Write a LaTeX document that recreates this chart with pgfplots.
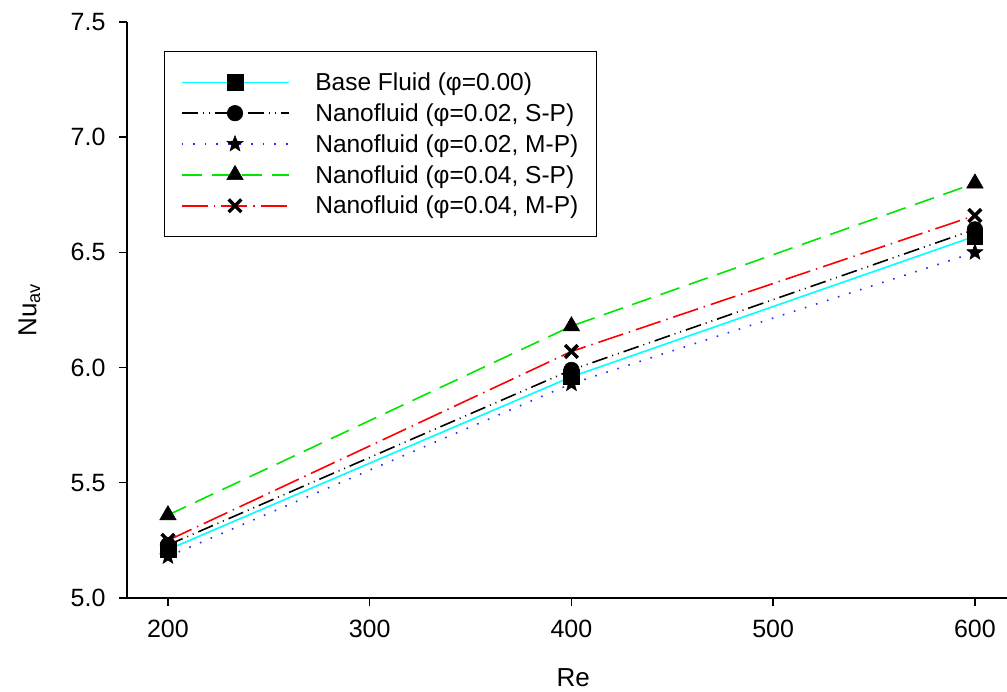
\documentclass[border=0pt]{standalone}
\usepackage{pgfplots}
\pgfplotsset{compat=1.18}
\usepackage{fontspec}
\setmainfont{Liberation Sans}
\definecolor{cyanl}{RGB}{0,255,255}
\definecolor{greenl}{RGB}{0,230,0}
\definecolor{redl}{RGB}{255,0,0}
\definecolor{bluel}{RGB}{40,40,255}
\pgfdeclareplotmark{fstar}{%
  \pgfpathmoveto{\pgfpointpolar{90}{\pgfplotmarksize}}%
  \pgfpathlineto{\pgfpointpolar{126}{0.42\pgfplotmarksize}}%
  \pgfpathlineto{\pgfpointpolar{162}{\pgfplotmarksize}}%
  \pgfpathlineto{\pgfpointpolar{198}{0.42\pgfplotmarksize}}%
  \pgfpathlineto{\pgfpointpolar{234}{\pgfplotmarksize}}%
  \pgfpathlineto{\pgfpointpolar{270}{0.42\pgfplotmarksize}}%
  \pgfpathlineto{\pgfpointpolar{306}{\pgfplotmarksize}}%
  \pgfpathlineto{\pgfpointpolar{342}{0.42\pgfplotmarksize}}%
  \pgfpathlineto{\pgfpointpolar{18}{\pgfplotmarksize}}%
  \pgfpathlineto{\pgfpointpolar{54}{0.42\pgfplotmarksize}}%
  \pgfpathclose
  \pgfusepathqfillstroke}
\begin{document}
\begin{tikzpicture}
\begin{axis}[
  scale only axis,
  width=880pt, height=576pt,
  at={(0,0)}, anchor=south west,
  xmin=179.7, xmax=615.9,
  ymin=5, ymax=7.5,
  axis x line*=bottom, axis y line*=left,
  axis line style={line width=1.6pt, -},
  tick align=outside,
  major tick length=8pt,
  tick style={line width=1.4pt, black},
  xtick={200,300,400,500,600},
  ytick={5,5.5,6,6.5,7,7.5},
  yticklabel style={xshift=-10pt, /pgf/number format/fixed, /pgf/number format/fixed zerofill, /pgf/number format/precision=1},
  /pgf/number format/assume math mode=true,
  ticklabel style={font=\fontsize{25}{29}\selectfont},
  xticklabel style={yshift=-11pt},
  xlabel={Re}, ylabel={Nu\textsubscript{av}},
  label style={font=\fontsize{26}{30}\selectfont},
  xlabel style={at={(axis description cs:0.507,-0.139)}, anchor=center},
  ylabel style={at={(axis description cs:-0.111,0.5)}, anchor=center},
  legend cell align=left,
  legend style={at={(axis description cs:0.042,0.9497)}, anchor=north west,
    draw=black, line width=1.5pt, inner xsep=16pt, inner ysep=19pt,
    font=\fontsize{24.5}{28}\selectfont, row sep=7.6pt, column sep=24pt,
    nodes={inner sep=2pt, line width=1.5pt}},
  legend image code/.code={\draw[mark repeat=2,mark phase=2,line width=1.6pt,#1] plot coordinates {(0pt,0pt) (53.5pt,0pt) (107pt,0pt)};},
  every axis plot/.append style={line width=1.6pt},
]
\addplot[cyanl, solid, mark=square*, mark size=7.8pt, mark options={black, solid, line width=0.5pt}]
  coordinates {(200,5.21) (400,5.96) (600,6.57)};
\addlegendentry{Base Fluid (φ=0.00)}
\addplot[black, dash pattern=on 16pt off 5pt on 1pt off 5pt on 1pt off 5pt, mark=*, mark size=7.8pt, mark options={black, solid, line width=0.5pt}]
  coordinates {(200,5.23) (400,5.99) (600,6.60)};
\addlegendentry{Nanofluid (φ=0.02, S-P)}
\addplot[bluel, dash pattern=on 1.6pt off 10pt, mark=fstar, mark size=8.5pt, mark options={black, fill=black, solid, line width=0.5pt}]
  coordinates {(200,5.18) (400,5.93) (600,6.50)};
\addlegendentry{Nanofluid (φ=0.02, M-P)}
\addplot[greenl, dash pattern=on 20pt off 10pt, mark=triangle*, mark size=9.5pt, mark options={black, solid, line width=0.5pt}]
  coordinates {(200,5.36) (400,6.18) (600,6.80)};
\addlegendentry{Nanofluid (φ=0.04, S-P)}
\addplot[redl, dash pattern=on 26pt off 6pt on 1.5pt off 6pt, mark=x, mark size=9pt, mark options={black, solid, line width=3.5pt}]
  coordinates {(200,5.25) (400,6.07) (600,6.66)};
\addlegendentry{Nanofluid (φ=0.04, M-P)}
\end{axis}
\pgfresetboundingbox
\path[use as bounding box] (-127pt,-94pt) rectangle (880pt,598pt);
\end{tikzpicture}
\end{document}
